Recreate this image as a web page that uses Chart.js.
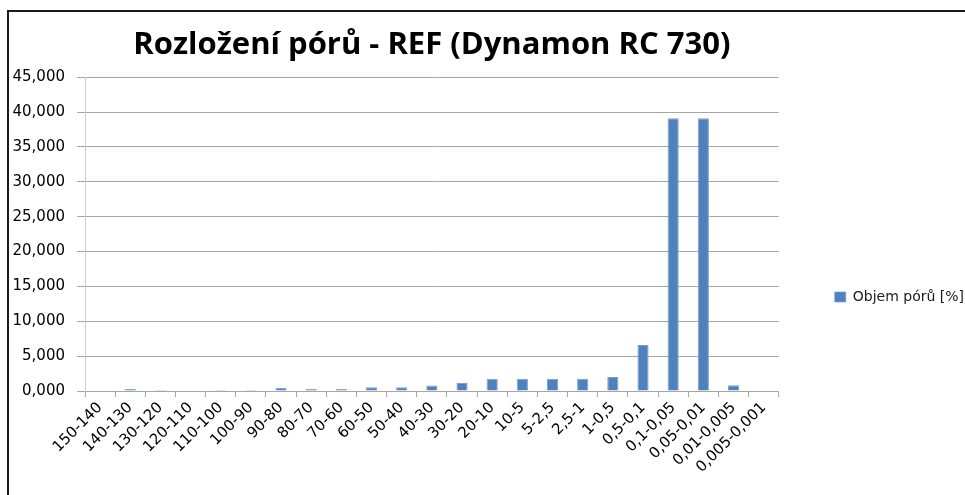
<!DOCTYPE html>
<html>
<head>
<meta charset="utf-8">
<script src="https://cdn.jsdelivr.net/npm/chart.js@4.4.1/dist/chart.umd.min.js"></script>
<style>
  html, body { margin: 0; padding: 0; background: #fff; overflow: hidden; width: 965px; height: 495px; }
  #frame {
    position: absolute; left: 7px; top: 10px;
    width: 1000px; height: 600px;
    border-left: 2px solid #1a1a1a; border-top: 2px solid #1a1a1a;
    overflow: hidden;
  }
  #chart { display: block; }
</style>
</head>
<body>
<div id="frame">
  <canvas id="chart" width="965" height="570"></canvas>
</div>
<script>
// Pore size classes (µm)
const categories = [
  '150-140', '140-130', '130-120', '120-110', '110-100', '100-90', '90-80',
  '80-70', '70-60', '60-50', '50-40', '40-30', '30-20', '20-10', '10-5',
  '5-2,5', '2,5-1', '1-0,5', '0,5-0,1', '0,1-0,05', '0,05-0,01',
  '0,01-0,005', '0,005-0,001'
];

// Pore volume [%]
const poreVolume = [
  0, 0.30, 0.15, 0, 0.15, 0.15, 0.45,
  0.30, 0.30, 0.55, 0.55, 0.80, 1.15, 1.75, 1.75,
  1.75, 1.75, 2.00, 6.60, 39.10, 39.10,
  0.82, 0
];

const seriesLabel = 'Objem pórů [%]';
const chartTitle = 'Rozložení pórů - REF (Dynamon RC 730)';
const yMin = 0;
const yMax = 45;
const yStep = 5;

const tickFont = { family: 'DejaVu Sans', size: 15 };

const ctx = document.getElementById('chart').getContext('2d');
new Chart(ctx, {
  type: 'bar',
  data: {
    labels: categories,
    datasets: [{
      label: seriesLabel,
      data: poreVolume,
      backgroundColor: '#4f81bd',
      borderColor: '#7da0cf',
      borderWidth: { top: 1, left: 1, right: 1, bottom: 0 },
      barPercentage: 0.37,
      categoryPercentage: 1
    }]
  },
  options: {
    responsive: false,
    animation: false,
    layout: { padding: 0 },
    plugins: {
      title: {
        display: true,
        text: chartTitle,
        fullSize: false,
        color: '#000',
        font: { family: 'Open Sans', size: 31, weight: 'bold' },
        padding: { top: 15, bottom: 13 }
      },
      legend: {
        position: 'right',
        labels: {
          color: '#1a1a1a',
          font: { family: 'DejaVu Sans', size: 14 },
          boxWidth: 11,
          boxHeight: 10,
          padding: 56
        }
      },
      tooltip: { enabled: false }
    },
    scales: {
      x: {
        grid: {
          offset: true,
          drawOnChartArea: false,
          color: '#a6a6a6',
          tickLength: 6
        },
        border: { color: '#a6a6a6' },
        ticks: {
          color: '#000',
          font: tickFont,
          minRotation: 45,
          maxRotation: 45,
          autoSkip: false,
          padding: 2
        },
        afterFit: (scale) => { scale.height = 191; }
      },
      y: {
        min: yMin,
        max: yMax,
        grid: {
          color: '#a6a6a6',
          tickLength: 8
        },
        border: { color: '#cfcfcf' },
        ticks: {
          stepSize: yStep,
          color: '#000',
          font: tickFont,
          padding: 12,
          callback: (v) => v.toFixed(3).replace('.', ',')
        },
        afterFit: (scale) => { scale.width = 76; }
      }
    }
  }
});
</script>
</body>
</html>
